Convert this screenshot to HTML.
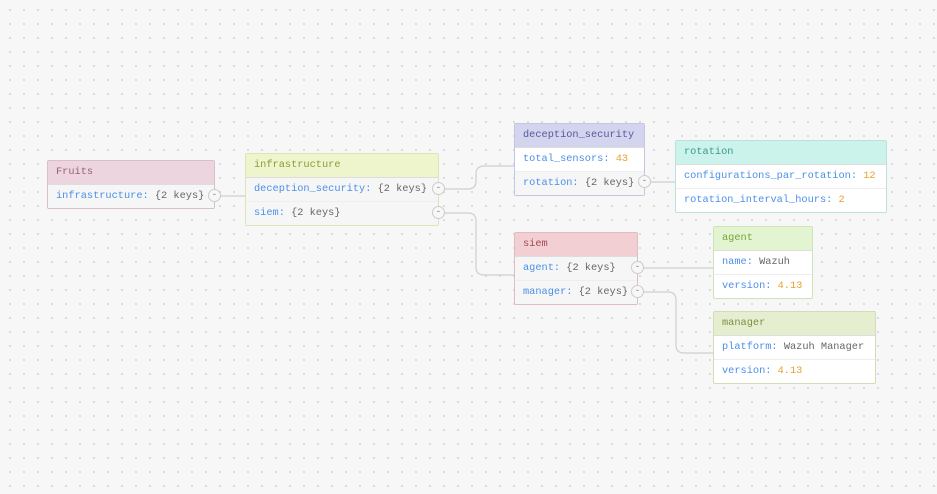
<!DOCTYPE html>
<html><head><style>
body{margin:0;width:937px;height:494px;overflow:hidden;background-color:#f7f7f7;background-image:radial-gradient(circle,#d6d6d6 0.8px,transparent 1.2px);background-size:14px 14px;background-position:3px 3px;font-family:"Liberation Mono",monospace;font-size:10.3px;position:relative}
.n{position:absolute;border:1px solid #ccc;border-radius:2px;background:#fff;box-sizing:border-box}
.h{height:23px;line-height:23px;padding-left:8px;border-bottom:1px solid #ddd}
.r{height:23px;line-height:23px;padding-left:8px;border-bottom:1px solid #eee;white-space:nowrap;position:relative}
.r:last-child{border-bottom:none}
.g{background:#f6f6f6}
.k{color:#4a8fe8}.v{color:#666}.num{color:#e8a030}
.c{position:absolute;width:13px;height:13px;border-radius:50%;border:1px solid #ccc;background:#f7f7f7;font-size:9px;line-height:11px;text-align:center;color:#777;box-sizing:border-box}
svg{position:absolute;left:0;top:0}
</style></head><body>
<svg width="937" height="494"><g fill="none" stroke="#cfcfcf" stroke-width="1.2">
<path d="M220 196H245"/>
<path d="M444 189H468Q476 189 476 181V174Q476 166 484 166H514"/>
<path d="M444 213H468Q476 213 476 221V267Q476 275 484 275H514"/>
<path d="M651 182H675"/>
<path d="M643 268H713"/>
<path d="M643 292H668Q676 292 676 300V345Q676 353 684 353H713"/>
</g></svg>
<div class="n" style="left:47px;top:160px;width:168px;border-color:#d9bfca"><div class="h" style="background:#ecd5de;color:#9a6079">Fruits</div><div class="r g"><span class="k">infrastructure:</span> <span class="v">{2 keys}</span></div></div>
<div class="c" style="left:208px;top:189px">-</div>
<div class="n" style="left:245px;top:153px;width:194px;border-color:#dde4b8"><div class="h" style="background:#eef5cc;color:#8a9a3a">infrastructure</div><div class="r g"><span class="k">deception_security:</span> <span class="v">{2 keys}</span></div><div class="r g"><span class="k">siem:</span> <span class="v">{2 keys}</span></div></div>
<div class="c" style="left:432px;top:182px">-</div>
<div class="c" style="left:432px;top:206px">-</div>
<div class="n" style="left:514px;top:123px;width:131px;border-color:#c4c6e4"><div class="h" style="background:#d3d5ef;color:#55589a">deception_security</div><div class="r"><span class="k">total_sensors:</span> <span class="num">43</span></div><div class="r g"><span class="k">rotation:</span> <span class="v">{2 keys}</span></div></div>
<div class="c" style="left:638px;top:175px">-</div>
<div class="n" style="left:675px;top:140px;width:212px;border-color:#b9e2dc"><div class="h" style="background:#ccf2ec;color:#3a9a88">rotation</div><div class="r"><span class="k">configurations_par_rotation:</span> <span class="num">12</span></div><div class="r"><span class="k">rotation_interval_hours:</span> <span class="num">2</span></div></div>
<div class="n" style="left:514px;top:232px;width:124px;border-color:#e0bcc1"><div class="h" style="background:#f2cfd3;color:#a04a55">siem</div><div class="r g"><span class="k">agent:</span> <span class="v">{2 keys}</span></div><div class="r g"><span class="k">manager:</span> <span class="v">{2 keys}</span></div></div>
<div class="c" style="left:631px;top:261px">-</div>
<div class="c" style="left:631px;top:285px">-</div>
<div class="n" style="left:713px;top:226px;width:100px;border-color:#cfe3b8"><div class="h" style="background:#e3f5d0;color:#7aa040">agent</div><div class="r"><span class="k">name:</span> <span class="v">Wazuh</span></div><div class="r"><span class="k">version:</span> <span class="num">4.13</span></div></div>
<div class="n" style="left:713px;top:311px;width:163px;border-color:#d3dbb8"><div class="h" style="background:#e6eed0;color:#7a9040">manager</div><div class="r"><span class="k">platform:</span> <span class="v">Wazuh Manager</span></div><div class="r"><span class="k">version:</span> <span class="num">4.13</span></div></div>
</body></html>
